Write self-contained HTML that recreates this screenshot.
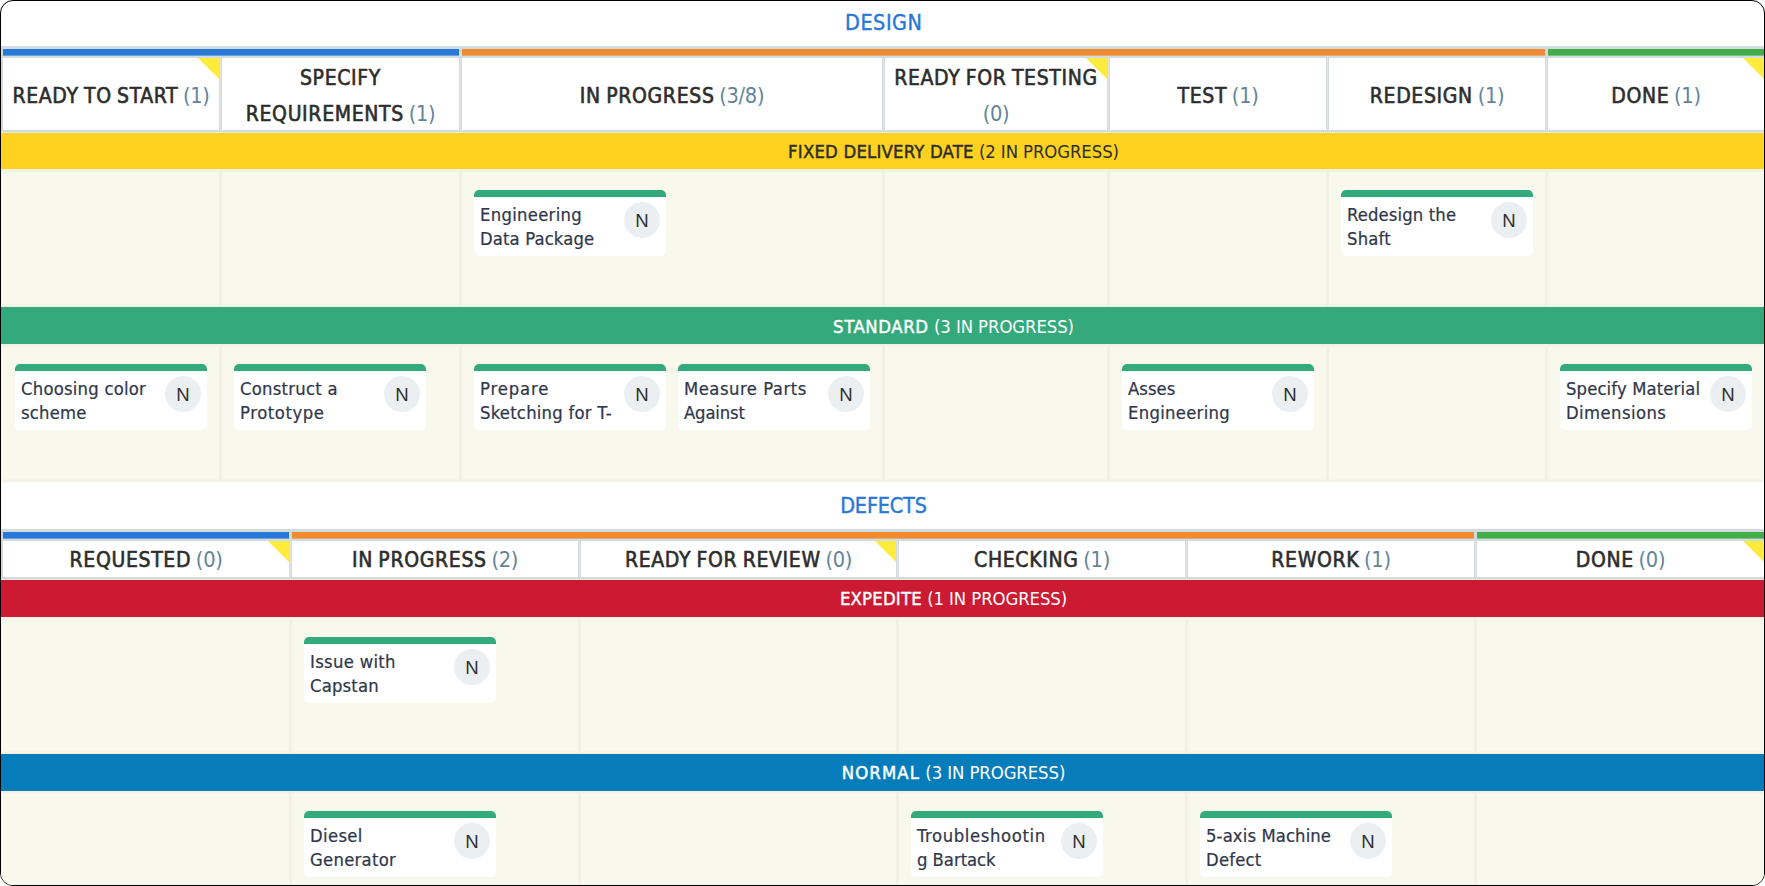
<!DOCTYPE html>
<html lang="en"><head><meta charset="utf-8"><title>Kanban board</title>
<style>
*{box-sizing:border-box;margin:0;padding:0}
html,body{width:1765px;height:886px;background:#fff;overflow:hidden}
body{position:relative;font-family:"Liberation Sans",sans-serif;color:#2d2d2d}
#frame{position:absolute;left:0;top:0;width:1765px;height:886px;border:1px solid #000;border-radius:13px;overflow:hidden;background:#fff}
#board{position:absolute;left:-1px;top:-1px;width:1767px;height:888px}
.title{position:absolute;left:0;width:1767px;text-align:center;font-family:"DejaVu Sans Condensed","DejaVu Sans","Liberation Sans",sans-serif;font-stretch:condensed;font-size:21.4px;color:#2877d8;-webkit-text-stroke:0.4px #2877d8;white-space:nowrap}
.strip{position:absolute;left:0;width:1767px;height:12px;background:#d2dbdf}
.bar{position:absolute;top:3px;height:6px}
.bar:after{content:"";position:absolute;left:0;right:0;top:6px;height:1px;background:inherit;opacity:.6}
.hrow{position:absolute;left:0;width:1767px;background:#d3dade}
.hcell{position:absolute;top:0;background:#fff;text-align:center;font-family:"DejaVu Sans Condensed","DejaVu Sans","Liberation Sans",sans-serif;font-stretch:condensed;font-size:21px;line-height:36.3px;color:#2d2d2d;display:flex;align-items:center;justify-content:center;overflow:hidden}
.hcell b{font-weight:normal;-webkit-text-stroke:0.6px #2d2d2d;letter-spacing:0.66px}
.hcell .t{position:relative;white-space:nowrap;word-spacing:-1.3px}
.hcell i{font-style:normal;color:#64839a;letter-spacing:-0.3px;font-size:21.6px}
.hsep{position:absolute;top:0;width:1px;background:#e4e6e1}
.hdot{position:absolute;left:0;right:0;bottom:0;height:1px;background:repeating-linear-gradient(90deg,#f3f4ec 0,#f3f4ec 1px,#dbe0e0 1px,#dbe0e0 2px)}
.tri{position:absolute;top:0;right:0;width:0;height:0;border-top:21px solid #ffeb3b;border-left:21px solid transparent}
.sw{position:absolute;left:0;width:1767px;height:36.6px}
.sw span{position:absolute;left:0;top:1.2px;width:1907px;text-align:center;font-family:"DejaVu Sans Condensed","DejaVu Sans","Liberation Sans",sans-serif;font-stretch:condensed;font-size:18.4px;line-height:36.2px;white-space:nowrap}
.sw b{font-weight:normal;letter-spacing:0.2px}
.sw em{font-style:normal;letter-spacing:-0.1px}
.lane{position:absolute;left:0;width:1767px;background:#f8f8ed;overflow:hidden}
.lsep{position:absolute;top:0;bottom:0;width:3px;background:#f0f1e3}
.ltop{position:absolute;left:0;right:0;top:0;height:3px;background:linear-gradient(#f1f2e4,#f1f2e4) 0 0/100% 2px no-repeat,repeating-linear-gradient(90deg,#f1f2e5 0,#f1f2e5 1px,transparent 1px,transparent 2px) 0 2px/100% 1px no-repeat}
.lbot{position:absolute;left:0;right:0;bottom:0;height:3px;background:linear-gradient(#f4f3e4,#f4f3e4) 0 1px/100% 2px no-repeat,repeating-linear-gradient(90deg,#f3f2e4 0,#f3f2e4 1px,transparent 1px,transparent 2px) 0 0/100% 1px no-repeat}
.card{position:absolute;width:192px;height:66.2px;background:#fff;border-radius:5px;overflow:hidden}
.card:before{content:"";position:absolute;left:0;right:0;top:0;height:6px;background:#34a97b;border-bottom:1px solid rgba(52,169,123,0.62);box-sizing:content-box}
.card p{position:absolute;left:6px;top:13.2px;width:142px;white-space:nowrap;font-family:"DejaVu Sans Condensed","DejaVu Sans","Liberation Sans",sans-serif;font-stretch:condensed;font-size:18.3px;line-height:24px;color:#30374a;-webkit-text-stroke:0.22px #30374a}
.card .av{position:absolute;left:150.2px;top:12px;width:35.8px;height:35.8px;border-radius:50%;background:#eceff1;text-align:center;font-size:18.6px;line-height:38.4px;color:#2f3033}
</style></head>
<body><div id="frame"><div id="board">
<div class="title" style="top:8.3px;line-height:30px;letter-spacing:0.55px;text-indent:0.55px">DESIGN</div>
<div class="strip" style="top:46.2px">
<div class="bar" style="left:3px;width:456px;background:#2878d8"></div>
<div class="bar" style="left:462px;width:1083px;background:#f28a2f"></div>
<div class="bar" style="left:1548px;width:219px;background:#42ad49"></div>
</div>
<div class="hrow" style="top:58.2px;height:75.1px">
<div class="hcell" style="left:3.0px;width:216.0px;height:72px"><div class="t" style="top:2.0px"><b>READY TO START</b> <i>(1)</i></div><div class="tri"></div></div>
<div class="hcell" style="left:222.0px;width:237.0px;height:72px"><div class="t" style="top:2.0px"><b>SPECIFY<br>REQUIREMENTS</b> <i>(1)</i></div></div>
<div class="hcell" style="left:462.0px;width:420.0px;height:72px"><div class="t" style="top:2.0px"><b>IN PROGRESS</b> <i>(3/8)</i></div></div>
<div class="hcell" style="left:885.0px;width:222.0px;height:72px"><div class="t" style="top:2.0px"><b>READY FOR TESTING</b><br><i>(0)</i></div><div class="tri"></div></div>
<div class="hcell" style="left:1110.0px;width:216.0px;height:72px"><div class="t" style="top:2.0px"><b>TEST</b> <i>(1)</i></div></div>
<div class="hcell" style="left:1329.0px;width:216.0px;height:72px"><div class="t" style="top:2.0px"><b>REDESIGN</b> <i>(1)</i></div></div>
<div class="hcell" style="left:1548.0px;width:216.0px;height:72px"><div class="t" style="top:2.0px"><b>DONE</b> <i>(1)</i></div><div class="tri"></div></div>
<div class="hsep" style="left:220.0px;height:72px"></div>
<div class="hsep" style="left:460.0px;height:72px"></div>
<div class="hsep" style="left:883.0px;height:72px"></div>
<div class="hsep" style="left:1108.0px;height:72px"></div>
<div class="hsep" style="left:1327.0px;height:72px"></div>
<div class="hsep" style="left:1546.0px;height:72px"></div>
<div class="hdot"></div></div>
<div class="sw" style="top:133.3px;background:#ffd21f;color:#2d2d2d"><span><b style="-webkit-text-stroke:0.45px #2d2d2d;letter-spacing:0.2px">FIXED DELIVERY DATE</b> <em>(2 IN PROGRESS)</em></span></div>
<div class="lane" style="top:169.3px;height:138.1px">
<div class="ltop"></div><div class="lbot"></div>
<div class="lsep" style="left:219.0px"></div>
<div class="lsep" style="left:459.0px"></div>
<div class="lsep" style="left:882.0px"></div>
<div class="lsep" style="left:1107.0px"></div>
<div class="lsep" style="left:1326.0px"></div>
<div class="lsep" style="left:1545.0px"></div>
<div class="card" style="left:474px;top:20.7px"><p><span style="letter-spacing:0.3px">Engineering</span><br><span style="letter-spacing:0.14px">Data Package</span></p><span class="av">N</span></div>
<div class="card" style="left:1341px;top:20.7px"><p><span style="letter-spacing:0.14px">Redesign the</span><br><span style="letter-spacing:0.2px">Shaft</span></p><span class="av">N</span></div>
</div>
<div class="sw" style="top:307.4px;background:#34a97b;color:#fff"><span><b style="-webkit-text-stroke:0.45px #fff;letter-spacing:0.6px">STANDARD</b> <em>(3 IN PROGRESS)</em></span></div>
<div class="lane" style="top:343.6px;height:138px">
<div class="ltop"></div><div class="lbot"></div>
<div class="lsep" style="left:219.0px"></div>
<div class="lsep" style="left:459.0px"></div>
<div class="lsep" style="left:882.0px"></div>
<div class="lsep" style="left:1107.0px"></div>
<div class="lsep" style="left:1326.0px"></div>
<div class="lsep" style="left:1545.0px"></div>
<div class="card" style="left:15px;top:20.7px"><p><span style="letter-spacing:0.24px">Choosing color</span><br><span style="letter-spacing:0.2px">scheme</span></p><span class="av">N</span></div>
<div class="card" style="left:234px;top:20.7px"><p><span style="letter-spacing:0.27px">Construct a</span><br><span style="letter-spacing:0.59px">Prototype</span></p><span class="av">N</span></div>
<div class="card" style="left:474px;top:20.7px"><p><span style="letter-spacing:0.87px">Prepare</span><br><span style="letter-spacing:0.24px">Sketching for T-</span></p><span class="av">N</span></div>
<div class="card" style="left:678px;top:20.7px"><p><span style="letter-spacing:0.52px">Measure Parts</span><br><span style="letter-spacing:-0.15px">Against</span></p><span class="av">N</span></div>
<div class="card" style="left:1122px;top:20.7px"><p><span style="letter-spacing:0.04px">Asses</span><br><span style="letter-spacing:0.3px">Engineering</span></p><span class="av">N</span></div>
<div class="card" style="left:1560px;top:20.7px"><p><span style="letter-spacing:0.14px">Specify Material</span><br><span style="letter-spacing:0.43px">Dimensions</span></p><span class="av">N</span></div>
</div>
<div class="title" style="top:491.4px;line-height:30px;letter-spacing:-0.15px">DEFECTS</div>
<div class="strip" style="top:529.3px">
<div class="bar" style="left:3px;width:286px;background:#2878d8"></div>
<div class="bar" style="left:292px;width:1182px;background:#f28a2f"></div>
<div class="bar" style="left:1477px;width:290px;background:#42ad49"></div>
</div>
<div class="hrow" style="top:541.4px;height:38.8px">
<div class="hcell" style="left:3.0px;width:286.0px;height:35.8px"><div class="t" style="top:0.5px"><b>REQUESTED</b> <i>(0)</i></div><div class="tri"></div></div>
<div class="hcell" style="left:292.0px;width:286.0px;height:35.8px"><div class="t" style="top:0.5px"><b>IN PROGRESS</b> <i>(2)</i></div></div>
<div class="hcell" style="left:581.0px;width:315.0px;height:35.8px"><div class="t" style="top:0.5px"><b>READY FOR REVIEW</b> <i>(0)</i></div><div class="tri"></div></div>
<div class="hcell" style="left:899.0px;width:286.0px;height:35.8px"><div class="t" style="top:0.5px"><b>CHECKING</b> <i>(1)</i></div></div>
<div class="hcell" style="left:1188.0px;width:286.0px;height:35.8px"><div class="t" style="top:0.5px"><b>REWORK</b> <i>(1)</i></div></div>
<div class="hcell" style="left:1477.0px;width:287.0px;height:35.8px"><div class="t" style="top:0.5px"><b>DONE</b> <i>(0)</i></div><div class="tri"></div></div>
<div class="hsep" style="left:290.0px;height:35.8px"></div>
<div class="hsep" style="left:579.0px;height:35.8px"></div>
<div class="hsep" style="left:897.0px;height:35.8px"></div>
<div class="hsep" style="left:1186.0px;height:35.8px"></div>
<div class="hsep" style="left:1475.0px;height:35.8px"></div>
<div class="hdot"></div></div>
<div class="sw" style="top:580.2px;background:#cb1a32;color:#fff"><span><b style="-webkit-text-stroke:0.45px #fff;letter-spacing:0.2px">EXPEDITE</b> <em>(1 IN PROGRESS)</em></span></div>
<div class="lane" style="top:616.6px;height:137.6px">
<div class="ltop"></div><div class="lbot"></div>
<div class="lsep" style="left:289.0px"></div>
<div class="lsep" style="left:578.0px"></div>
<div class="lsep" style="left:896.0px"></div>
<div class="lsep" style="left:1185.0px"></div>
<div class="lsep" style="left:1474.0px"></div>
<div class="card" style="left:304px;top:20.7px"><p><span style="letter-spacing:0.32px">Issue with</span><br><span style="letter-spacing:0.18px">Capstan</span></p><span class="av">N</span></div>
</div>
<div class="sw" style="top:754.2px;background:#077cba;color:#fff"><span><b style="-webkit-text-stroke:0.45px #fff;letter-spacing:1.1px">NORMAL</b> <em>(3 IN PROGRESS)</em></span></div>
<div class="lane" style="top:790.6px;height:100px">
<div class="ltop"></div><div class="lbot"></div>
<div class="lsep" style="left:289.0px"></div>
<div class="lsep" style="left:578.0px"></div>
<div class="lsep" style="left:896.0px"></div>
<div class="lsep" style="left:1185.0px"></div>
<div class="lsep" style="left:1474.0px"></div>
<div class="card" style="left:304px;top:20.7px"><p><span style="letter-spacing:0.34px">Diesel</span><br><span style="letter-spacing:0.28px">Generator</span></p><span class="av">N</span></div>
<div class="card" style="left:911px;top:20.7px"><p><span style="letter-spacing:0.64px">Troubleshootin</span><br><span style="letter-spacing:-0.03px">g Bartack</span></p><span class="av">N</span></div>
<div class="card" style="left:1200px;top:20.7px"><p><span style="letter-spacing:0.12px">5-axis Machine</span><br><span style="letter-spacing:0.22px">Defect</span></p><span class="av">N</span></div>
</div>
</div></div></body></html>
